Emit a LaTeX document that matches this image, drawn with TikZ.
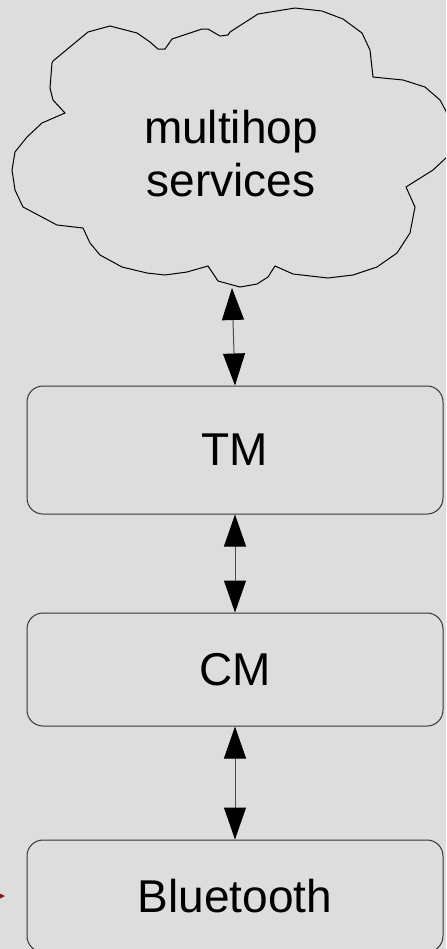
\documentclass[tikz,border=0pt]{standalone}
\usepackage{fontspec}
\setmainfont{Liberation Sans}
\usetikzlibrary{arrows.meta}
\definecolor{bggray}{HTML}{DDDDDD}
\definecolor{tipred}{HTML}{8B1A1A}
\tikzset{
  layerbox/.style={draw=black!80,line width=0.5pt,rounded corners=8pt,
    minimum width=208pt,inner sep=0pt,font=\fontsize{23}{26.5}\selectfont},
  biarrow/.style={line width=0.5pt,black!70,{Triangle[length=16pt,width=11pt,black]}-{Triangle[length=16pt,width=11pt,black]}}
}
\begin{document}
\begin{tikzpicture}[x=0.5pt,y=-0.5pt]
\useasboundingbox[fill=bggray](0,0) rectangle (446,949);
\begin{scope}
\clip (0,0) rectangle (446,949);
% cloud
\draw[line width=0.5pt] (53,61) -- (88,32) -- (110,26) -- (137,33) -- (150,42) -- (158,49)
  -- (165,49) -- (172,39) -- (202,29) -- (208,29) -- (220,36) -- (228,35) -- (230,32)
  -- (258,14) -- (295,8) -- (322,11) -- (343,19) -- (362,33) -- (370,50) -- (373,77)
  -- (403,80) -- (425,87) -- (440,100) -- (447,113) -- (447,157) -- (433,170)
  -- (406,187) -- (415,207) -- (410,233) -- (397,253) -- (377,267) -- (353,275)
  -- (328,278) -- (293,274) -- (275,266) -- (268,277) -- (257,284) -- (240,287)
  -- (218,281) -- (208,266) -- (187,272) -- (165,275) -- (147,273) -- (122,267)
  -- (100,255) -- (90,243) -- (83,228) -- (57,225) -- (23,207) -- (15,190)
  -- (12,170) -- (15,152) -- (27,137) -- (42,123) -- (65,113) -- (53,100)
  -- (50,88) -- (52,63) -- cycle;
\node[align=center,font=\fontsize{23}{26.5}\selectfont] (services) at (231,154) {multihop\\services};
\coordinate (cloud) at (232,288);
% layers
\node[layerbox,minimum height=64pt] (tm) at (235,450) {TM};
\node[layerbox,minimum height=56.5pt] (cm) at (235,669.5) {CM};
\node[layerbox,minimum height=56pt] (bt) at (235,896) {Bluetooth};
\draw[biarrow] (cloud) -- (tm.north);
\draw[biarrow] (tm) -- (cm);
\draw[biarrow] (cm) -- (bt);
% incoming tip
\coordinate (ext) at (-30,896);
\coordinate (tip) at (5,896);
\draw[tipred,line width=0.5pt,-{Stealth[length=6pt,width=6pt]}] (ext) -- (tip);
\end{scope}
\end{tikzpicture}
\end{document}
